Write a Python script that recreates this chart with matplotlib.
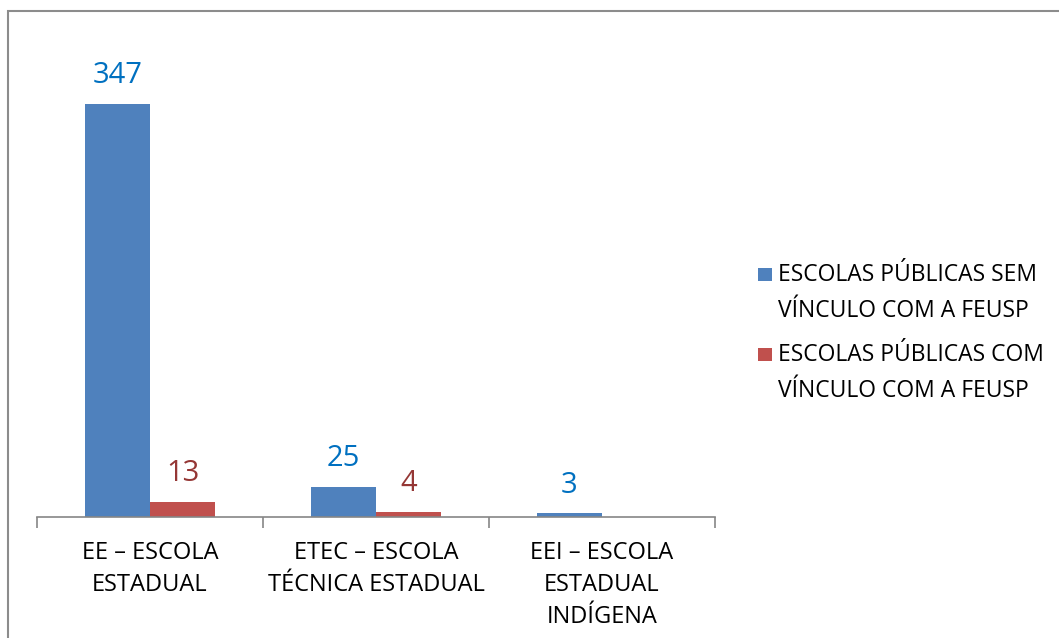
import numpy as np
import matplotlib.pyplot as plt
from matplotlib.patches import Rectangle

plt.rcParams['font.family'] = ['Open Sans', 'DejaVu Sans']

# --- Données ---
categorias = ["EE – ESCOLA\nESTADUAL",
              "ETEC – ESCOLA\nTÉCNICA ESTADUAL",
              "EEI – ESCOLA\nESTADUAL\nINDÍGENA"]
sem_vinculo = [347, 25, 3]
com_vinculo = [13, 4, 0]
series = ["ESCOLAS PÚBLICAS SEM\nVÍNCULO COM A FEUSP",
          "ESCOLAS PÚBLICAS COM\nVÍNCULO COM A FEUSP"]

cores_barras = ['#4F81BD', '#C0504D']
cores_rotulos = ['#0070C0', '#953735']

W, H = 1059, 638
fig = plt.figure(figsize=(W / 100, H / 100), dpi=100)

# moldura cinza do gráfico
fig.patches.append(Rectangle((8 / W, -0.1), 1.2, 1 - 11 / H + 0.1,
                             transform=fig.transFigure, fill=False,
                             edgecolor='#8C8C8C', linewidth=1.5))

ax = fig.add_axes([37 / W, (H - 517) / H, (715 - 37) / W, (517 - 60) / H])

x = np.arange(len(categorias))
largura = 0.288
valores = [sem_vinculo, com_vinculo]
for i, vals in enumerate(valores):
    pos = x + (i - 0.5) * largura
    barras = ax.bar(pos, vals, largura, color=cores_barras[i], label=series[i])
    for b, v in zip(barras, vals):
        if v == 0:
            continue
        ax.annotate(str(v), (b.get_x() + b.get_width() / 2, v),
                    xytext=(0, 10), textcoords='offset points',
                    ha='center', va='bottom', fontsize=21,
                    color=cores_rotulos[i])

ax.set_xlim(-0.5, len(categorias) - 0.5)
ax.set_ylim(0, 384)
ax.set_yticks([])
ax.set_xticks(x)
ax.set_xticklabels(categorias, fontsize=17, linespacing=1.45)
ax.tick_params(axis='x', which='major', length=0, pad=17)
ax.set_xticks(np.arange(-0.5, len(categorias)), minor=True)
ax.tick_params(axis='x', which='minor', length=8, width=1.2, color='#868686')
for lado in ['top', 'left', 'right']:
    ax.spines[lado].set_visible(False)
ax.spines['bottom'].set_color('#868686')
ax.spines['bottom'].set_linewidth(1.2)

# legenda à direita
for i, nome in enumerate(series):
    y_topo = 263 + i * 80
    fig.patches.append(Rectangle((758 / W, 1 - (y_topo + 18) / H), 14 / W, 13 / H,
                                 transform=fig.transFigure,
                                 facecolor=cores_barras[i], edgecolor='none'))
    fig.text(778 / W, 1 - y_topo / H, nome, fontsize=16.5, va='top', ha='left',
             linespacing=1.65)

fig.savefig('out.png', dpi=100)
